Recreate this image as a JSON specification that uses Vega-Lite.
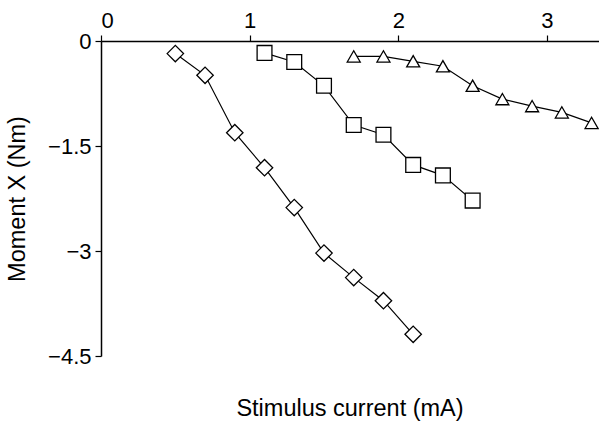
{
  "$schema": "https://vega.github.io/schema/vega-lite/v6.json",
  "width": 498,
  "height": 315,
  "autosize": {"type": "none"},
  "padding": {"left": 101, "top": 41, "right": 0, "bottom": 67},
  "background": "white",
  "title": {
    "text": "Stimulus current (mA)",
    "orient": "bottom",
    "anchor": "middle",
    "offset": 30,
    "font": "Liberation Sans",
    "fontSize": 23.5,
    "fontWeight": "normal",
    "color": "black"
  },
  "data": {
    "values": [
      {"series": "d", "current": 0.5, "moment": -0.18},
      {"series": "d", "current": 0.7, "moment": -0.49},
      {"series": "d", "current": 0.9, "moment": -1.31},
      {"series": "d", "current": 1.1, "moment": -1.81},
      {"series": "d", "current": 1.3, "moment": -2.38},
      {"series": "d", "current": 1.5, "moment": -3.03},
      {"series": "d", "current": 1.7, "moment": -3.38},
      {"series": "d", "current": 1.9, "moment": -3.71},
      {"series": "d", "current": 2.1, "moment": -4.19},
      {"series": "s", "current": 1.1, "moment": -0.17},
      {"series": "s", "current": 1.3, "moment": -0.3},
      {"series": "s", "current": 1.5, "moment": -0.64},
      {"series": "s", "current": 1.7, "moment": -1.2},
      {"series": "s", "current": 1.9, "moment": -1.34},
      {"series": "s", "current": 2.1, "moment": -1.77},
      {"series": "s", "current": 2.3, "moment": -1.92},
      {"series": "s", "current": 2.5, "moment": -2.28},
      {"series": "t", "current": 1.7, "moment": -0.22},
      {"series": "t", "current": 1.9, "moment": -0.22},
      {"series": "t", "current": 2.1, "moment": -0.29},
      {"series": "t", "current": 2.3, "moment": -0.36},
      {"series": "t", "current": 2.5, "moment": -0.64},
      {"series": "t", "current": 2.7, "moment": -0.83},
      {"series": "t", "current": 2.9, "moment": -0.93},
      {"series": "t", "current": 3.1, "moment": -1.02},
      {"series": "t", "current": 3.3, "moment": -1.17}
    ]
  },
  "encoding": {
    "x": {
      "field": "current",
      "type": "quantitative",
      "scale": {"domain": [0, 3.35], "nice": false, "zero": false},
      "axis": {
        "orient": "top",
        "title": null,
        "values": [0, 1, 2, 3],
        "labelExpr": "toString(datum.value)",
        "grid": false,
        "tickSize": 6,
        "labelPadding": 3
      }
    },
    "y": {
      "field": "moment",
      "type": "quantitative",
      "scale": {"domain": [-4.5, 0], "nice": false},
      "axis": {
        "title": "Moment X (Nm)",
        "values": [0, -1.5, -3, -4.5],
        "labelExpr": "replace(toString(datum.value), '-', '\u2212')",
        "grid": false,
        "tickSize": 6,
        "labelPadding": 4,
        "titlePadding": 18
      }
    }
  },
  "layer": [
    {
      "mark": {"type": "line", "color": "black", "strokeWidth": 1.2},
      "encoding": {"detail": {"field": "series"}}
    },
    {
      "mark": {"type": "point", "filled": true, "fill": "white", "stroke": "black", "strokeWidth": 1.3, "opacity": 1},
      "encoding": {
        "shape": {
          "field": "series",
          "scale": {"domain": ["d", "s", "t"], "range": ["diamond", "square", "triangle-up"]},
          "legend": null
        },
        "size": {
          "field": "series",
          "scale": {"domain": ["d", "s", "t"], "range": [270, 169, 230]},
          "legend": null
        }
      }
    }
  ],
  "config": {
    "view": {"stroke": null},
    "axis": {
      "domainColor": "black",
      "domainWidth": 1.5,
      "tickColor": "black",
      "tickWidth": 1.2,
      "labelColor": "black",
      "labelFont": "Liberation Sans",
      "labelFontSize": 22,
      "titleFont": "Liberation Sans",
      "titleFontSize": 23.5,
      "titleFontWeight": "normal",
      "titleColor": "black"
    }
  }
}
